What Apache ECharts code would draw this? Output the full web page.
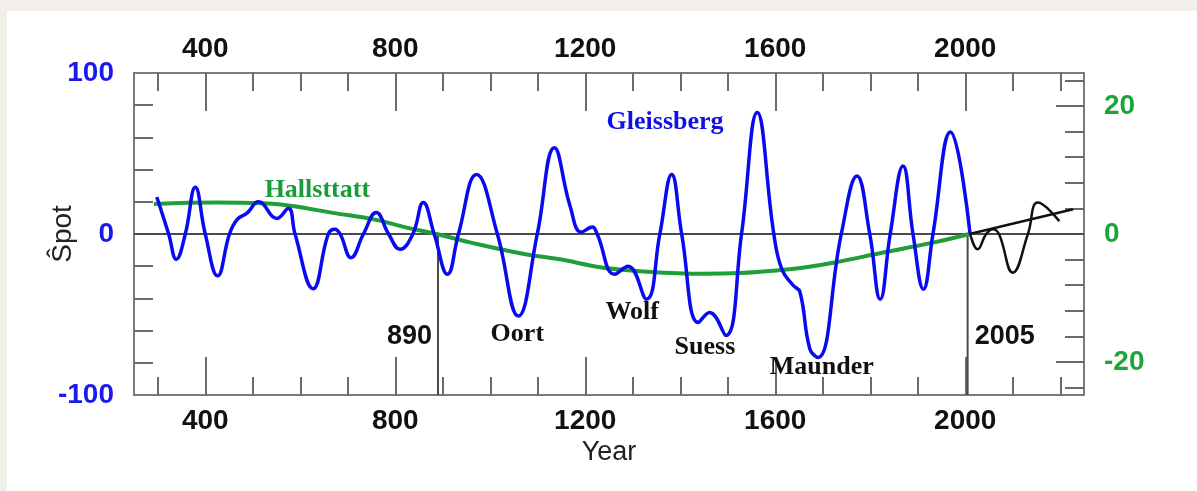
<!DOCTYPE html>
<html>
<head>
<meta charset="utf-8">
<script src="https://cdn.jsdelivr.net/npm/echarts@6/dist/echarts.min.js"></script>
<style>
  html, body { margin: 0; padding: 0; background: #ffffff; }
  #chart { width: 1197px; height: 491px; }
</style>
</head>
<body>
<div id="chart"></div>
<script>
// Gleissberg cycle reconstruction (sunspot units, left axis)
const gleissbergYears = [298, 323, 339, 358, 379, 400, 426, 451, 467, 488, 512, 551, 575, 589, 627, 659, 673, 684, 707, 733, 760, 786, 810, 837, 859, 882, 910, 933, 971, 1015, 1059, 1099, 1135, 1168, 1192, 1215, 1225, 1262, 1290, 1329, 1357, 1382, 1403, 1438, 1462, 1496, 1529, 1562, 1597, 1614, 1638, 1652, 1673, 1690, 1739, 1772, 1799, 1821, 1842, 1869, 1890, 1912, 1932, 1969, 2010];
const gleissbergSpots = [23, 0, -15.7, 0, 29, 0, -26, 0, 9, 13, 20, 9.6, 16, 0, -34, 0, 3, 0, -14.7, 0, 13.3, 0, -9.5, 0, 19.5, 0, -25, 0, 37, 0, -51, 0, 53.6, 17.4, 1.2, 4.3, 0, -25, -20, -40.5, 0, 37, 0, -55, -48.8, -63, 0, 75.4, 0, -22, -32, -36, -71.6, -76.7, 0, 36, 0, -40.5, 0, 42.2, 0, -34.3, 0, 63.3, 0.5];

// Forecast after 2005 (sunspot units, left axis)
const forecastYears = [2010, 2026, 2044, 2058, 2071, 2100, 2132, 2153, 2198];
const forecastSpots = [0.5, -9.5, 0, 3, 0, -24, 0, 19.5, 8];

// Hallstatt cycle (right axis)
const hallstattYears = [292, 425, 520, 579, 669, 760, 824, 887, 957, 1077, 1147, 1231, 1315, 1448, 1525, 1602, 1672, 1722, 1827, 1932, 2009];
const hallstattValues = [4.7, 4.9, 4.8, 4.4, 3.3, 2.2, 1.0, 0.0, -1.3, -3.2, -3.95, -5.2, -5.8, -6.2, -6.1, -5.7, -5.1, -4.5, -2.9, -1.35, 0];

// Hallstatt trend after 2005 (right axis)
const trendYears = [2009, 2227];
const trendValues = [0, 3.86];

// Marked epochs
const epochYears = [890, 2005];

// Axis ticks and labels
const yearLabels = [400, 800, 1200, 1600, 2000];
const yearMinorTicks = [300, 500, 600, 700, 900, 1000, 1100, 1300, 1400, 1500, 1700, 1800, 1900, 2100, 2200];
const spotLabels = [100, 0, -100];
const spotTicks = [80, 60, 40, 20, -20, -40, -60, -80];
const hallLabels = [20, 0, -20];
const hallTicks = [24, 16, 12, 8, 4, -4, -8, -12, -16, -24];
const hallLongTicks = [20, -20];

const YEAR_MIN = 250, YEAR_MAX = 2250;
const SPOT_MIN = -100, SPOT_MAX = 100;
const HALL_MAX = 25.14;

const pairs = (xs, ys) => xs.map((x, i) => [x, ys[i]]);
const plain = v => String(v);

const axisGray = '#7a7a7a';
const tickGray = '#6a6a6a';
const numFont = { fontFamily: 'Liberation Sans, Arial, sans-serif', fontWeight: 'bold', fontSize: 28 };
const serifFont = { fontFamily: 'Liberation Serif, Times New Roman, serif', fontWeight: 'bold', fontSize: 26 };

function xAxisDef(position, labels, ticks, len, showLine) {
  return {
    type: 'value', min: YEAR_MIN, max: YEAR_MAX, position: position,
    axisLine: { show: showLine, onZero: false, lineStyle: { color: axisGray, width: 2 } },
    axisTick: { show: true, inside: true, length: len, customValues: ticks, lineStyle: { color: tickGray, width: 2 } },
    axisLabel: labels
      ? Object.assign({ show: true, customValues: labels, formatter: plain, color: '#111', margin: position === 'bottom' ? 12 : 10 }, numFont)
      : { show: false },
    splitLine: { show: false }
  };
}

const chart = echarts.init(document.getElementById('chart'), null, { renderer: 'canvas' });

const annotations = [
  { name: 'Hallsttatt', value: [636, 27], color: '#1a9c3a' },
  { name: 'Gleissberg', value: [1368, 69.3], color: '#1010e6' },
  { name: 'Oort', value: [1057, -62.3], color: '#111' },
  { name: 'Wolf', value: [1299, -48.6], color: '#111' },
  { name: 'Suess', value: [1452, -70.3], color: '#111' },
  { name: 'Maunder', value: [1698, -82.7], color: '#111' }
];

const option = {
  backgroundColor: '#ffffff',
  animation: false,
  graphic: [
    { type: 'rect', left: 0, top: 0, shape: { width: 1197, height: 11 }, style: { fill: '#f2eeea' }, silent: true },
    { type: 'rect', left: 0, top: 0, shape: { width: 7, height: 491 }, style: { fill: '#f2eeea' }, silent: true }
  ],
  grid: { left: 134, top: 73, width: 950, height: 322, show: false },
  xAxis: [
    Object.assign(xAxisDef('bottom', yearLabels, yearLabels, 38, true), {
      name: 'Year', nameLocation: 'middle', nameGap: 44, nameMoveOverlap: false,
      nameTextStyle: { fontFamily: 'Liberation Sans, Arial, sans-serif', fontSize: 27, color: '#222' }
    }),
    xAxisDef('bottom', null, yearMinorTicks, 18, false),
    xAxisDef('top', yearLabels, yearLabels, 38, true),
    xAxisDef('top', null, yearMinorTicks, 18, false)
  ],
  yAxis: [
    {
      type: 'value', min: SPOT_MIN, max: SPOT_MAX, position: 'left',
      name: 'Ŝpot', nameLocation: 'middle', nameGap: 57, nameRotate: 90, nameMoveOverlap: false,
      nameTextStyle: { fontFamily: 'Liberation Sans, Arial, sans-serif', fontSize: 28, color: '#222' },
      axisLine: { show: true, onZero: false, lineStyle: { color: axisGray, width: 2 } },
      axisTick: { show: true, inside: true, length: 19, customValues: spotTicks, lineStyle: { color: tickGray, width: 2 } },
      axisLabel: Object.assign({ customValues: spotLabels, formatter: plain, color: '#1a1aee', margin: 20 }, numFont),
      splitLine: { show: false }
    },
    {
      type: 'value', min: -HALL_MAX, max: HALL_MAX, position: 'right',
      axisLine: { show: true, onZero: false, lineStyle: { color: axisGray, width: 2 } },
      axisTick: { show: true, inside: true, length: 19, customValues: hallTicks, lineStyle: { color: tickGray, width: 2 } },
      axisLabel: Object.assign({ customValues: hallLabels, formatter: plain, color: '#1da53c', margin: 20 }, numFont),
      splitLine: { show: false }
    },
    {
      type: 'value', min: -HALL_MAX, max: HALL_MAX, position: 'right',
      axisLine: { show: false, onZero: false },
      axisTick: { show: true, inside: true, length: 28, customValues: hallLongTicks, lineStyle: { color: tickGray, width: 2 } },
      axisLabel: { show: false },
      splitLine: { show: false }
    }
  ],
  series: [
    {
      // zero reference line
      type: 'line', xAxisIndex: 0, yAxisIndex: 0, z: 1, silent: true, showSymbol: false,
      data: [[YEAR_MIN, 0], [YEAR_MAX, 0]],
      lineStyle: { color: '#4a4a4a', width: 2 }
    },
    ...epochYears.map(y => ({
      type: 'line', xAxisIndex: 0, yAxisIndex: 0, z: 1, silent: true, showSymbol: false,
      data: [[y, 0], [y, SPOT_MIN]],
      lineStyle: { color: '#4a4a4a', width: 2 }
    })),
    {
      name: 'Hallstatt', type: 'line', xAxisIndex: 0, yAxisIndex: 1, z: 2,
      smooth: 0.4, showSymbol: false,
      data: pairs(hallstattYears, hallstattValues),
      lineStyle: { color: '#1f9e3a', width: 4 }
    },
    {
      name: 'Gleissberg', type: 'line', xAxisIndex: 0, yAxisIndex: 0, z: 3,
      smooth: 0.45, showSymbol: false,
      data: pairs(gleissbergYears, gleissbergSpots),
      lineStyle: { color: '#0a0af0', width: 3.5 }
    },
    {
      name: 'Forecast', type: 'line', xAxisIndex: 0, yAxisIndex: 0, z: 3,
      smooth: 0.45, showSymbol: false,
      data: pairs(forecastYears, forecastSpots),
      lineStyle: { color: '#111', width: 2.5 }
    },
    {
      name: 'Trend', type: 'line', xAxisIndex: 0, yAxisIndex: 1, z: 3,
      showSymbol: false,
      data: pairs(trendYears, trendValues),
      lineStyle: { color: '#111', width: 2.5 }
    },
    {
      // cycle names
      type: 'scatter', xAxisIndex: 0, yAxisIndex: 0, z: 4, silent: true,
      symbolSize: 0, itemStyle: { opacity: 1 },
      data: annotations.map(a => ({
        name: a.name, value: a.value,
        label: Object.assign({ show: true, position: 'inside', formatter: '{b}', color: a.color, opacity: 1 }, serifFont)
      }))
    },
    {
      // epoch year labels
      type: 'scatter', xAxisIndex: 0, yAxisIndex: 0, z: 4, silent: true,
      symbolSize: 0, itemStyle: { opacity: 1 },
      data: epochYears.map((y, i) => ({
        name: String(y), value: [y, -63.5],
        label: Object.assign({
          show: true, formatter: '{b}', color: '#111', opacity: 1,
          position: i === 0 ? 'left' : 'right', distance: i === 0 ? 6 : 7
        }, numFont, { fontSize: 27 })
      }))
    }
  ]
};

chart.setOption(option);
</script>
</body>
</html>
